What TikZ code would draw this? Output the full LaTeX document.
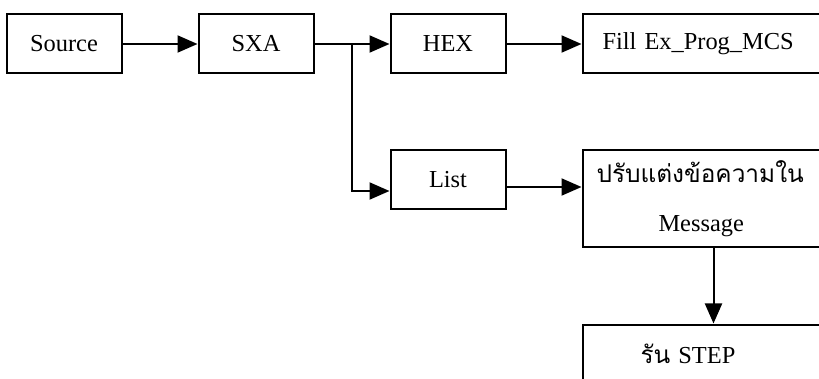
\documentclass[tikz,border=0pt]{standalone}
\usepackage{fontspec}
\setmainfont{Liberation Serif}
\newfontfamily\thaifont[Script=Thai]{Loma}
\usetikzlibrary{positioning, arrows.meta}

\begin{document}
\begin{tikzpicture}[x=0.5pt, y=-0.5pt, node distance=37.5pt]
        \tikzstyle{box} = [rectangle, minimum width=57.5pt, minimum height=29.5pt, text centered, draw=black, line width=1pt, font=\fontsize{12.2}{14.6}\selectfont]
        \tikzstyle{wide} = [box, minimum width=150pt, align=left]
        \tikzstyle{arrow} = [line width=1pt, -{Triangle[length=10pt, width=8.5pt]}]

        \clip (0,0) rectangle (819,379);

        \node (src) [box] at (64,44) {Source};
        \node (sxa) [box, right=of src] {SXA};
        \node (hex) [box, right=of sxa] {HEX};
        \node (fill) [wide, inner xsep=10pt, text width=130pt, right=of hex] {Fill Ex\_Prog\_MCS};
        \node (list) [box, below=of hex] {List};
        \node (msg) [wide, inner xsep=7pt, text width=136pt, minimum height=48.5pt, right=of list.north east, anchor=north west] {{\thaifont ปรับแต่งข้อความใน}\\[10pt]\hspace*{31pt}Message};
        \node (run) [wide, inner xsep=29pt, text width=92pt, below=of msg] {{\thaifont รัน} STEP};
        \coordinate [right=18.75pt of sxa.east] (split);

        \draw [arrow] (src) -- (sxa);
        \draw [arrow] (sxa) -- (hex);
        \draw [arrow] (hex) -- (fill);
        \draw [arrow] (split) |- ([yshift=-5.5pt]list.west);
        \draw [arrow] ([yshift=-3.5pt]list.east) -- ([yshift=-3.5pt]list.east -| msg.west);
        \draw [arrow] ([xshift=-9.5pt]msg.south) -- ([xshift=-9.5pt]run.north);
\end{tikzpicture}
\end{document}
